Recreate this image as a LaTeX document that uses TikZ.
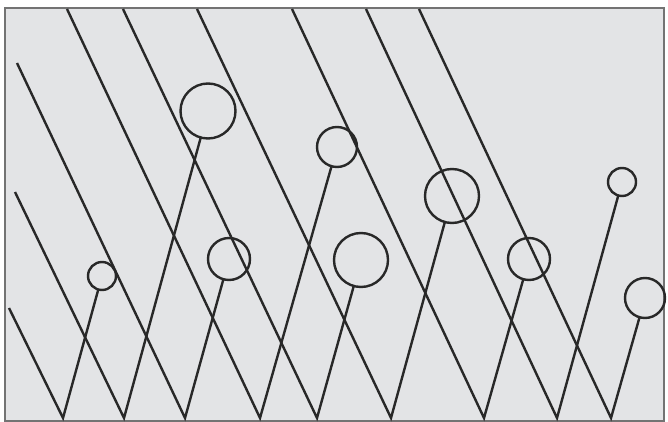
\documentclass[tikz,border=0pt]{standalone}
\usepackage{tikz}
\usetikzlibrary{positioning}
\definecolor{paper}{RGB}{227,228,230}
\definecolor{ink}{RGB}{40,40,40}

\begin{document}
\begin{tikzpicture}[
  x=1pt,y=-1pt,
  rod/.style={draw=ink,line width=2.4pt},
  bulb/.style={circle,draw=ink,line width=2.4pt,inner sep=0pt,outer sep=0pt},
  frame/.style={draw=black!55,line width=1.3pt,fill=paper}
]
\useasboundingbox (0,0) rectangle (668,422);
\path[frame] (5,8) rectangle (664,421);

% bottoms of the zigzag
\coordinate (b1) at (63,418);
\coordinate (b2) at (124,418);
\coordinate (b3) at (185,418);
\coordinate (b4) at (260,418);
\coordinate (b5) at (317,418);
\coordinate (b6) at (391,418);
\coordinate (b7) at (484,418);
\coordinate (b8) at (557,418);
\coordinate (b9) at (611,418);

% where the falling strokes start
\coordinate (t1) at (9,308);
\coordinate (t2) at (15,192);
\coordinate (t3) at (17,63);
\coordinate (t4) at (67,9);
\coordinate (t5) at (123,9);
\coordinate (t6) at (197,9);
\coordinate (t7) at (292,9);
\coordinate (t8) at (366,9);
\coordinate (t9) at (419,9);

% heads
\node[bulb,minimum size=28pt] (c1) at (102,276) {};
\node[bulb,minimum size=55pt] (c2) at (208,111) {};
\node[bulb,minimum size=42pt] (c3) at (229,259) {};
\node[bulb,minimum size=40pt] (c4) at (337,147) {};
\node[bulb,minimum size=54pt] (c5) at (361,260) {};
\node[bulb,minimum size=54pt] (c6) at (452,196) {};
\node[bulb,minimum size=42pt] (c7) at (529,259) {};
\node[bulb,minimum size=28pt] (c8) at (622,182) {};
\node[bulb,minimum size=40pt] (c9) at (645,298) {};

\draw[rod] (t1)--(b1)--(c1);
\draw[rod] (t2)--(b2)--(c2);
\draw[rod] (t3)--(b3)--(c3);
\draw[rod] (t4)--(b4)--(c4);
\draw[rod] (t5)--(b5)--(c5);
\draw[rod] (t6)--(b6)--(c6);
\draw[rod] (t7)--(b7)--(c7);
\draw[rod] (t8)--(b8)--(c8);
\draw[rod] (t9)--(b9)--(c9);
\end{tikzpicture}
\end{document}
